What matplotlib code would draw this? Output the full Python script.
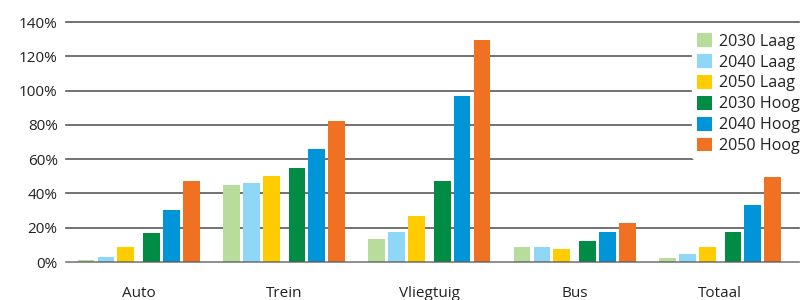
import matplotlib
matplotlib.use("Agg")
import matplotlib.pyplot as plt
from matplotlib.patches import Patch
import numpy as np

plt.rcParams['font.family'] = ['Open Sans', 'DejaVu Sans']

categories = ["Auto", "Trein", "Vliegtuig", "Bus", "Totaal"]
series_names = ["2030 Laag", "2040 Laag", "2050 Laag", "2030 Hoog", "2040 Hoog", "2050 Hoog"]
v_2030_laag = [1.0, 45.0, 13.6, 9.0, 2.5]
v_2040_laag = [3.0, 46.3, 17.7, 9.0, 4.8]
v_2050_laag = [8.5, 50.4, 27.0, 7.8, 9.0]
v_2030_hoog = [17.0, 55.0, 47.0, 12.0, 17.7]
v_2040_hoog = [30.5, 66.0, 97.0, 17.7, 33.0]
v_2050_hoog = [47.5, 82.0, 129.6, 23.0, 49.3]
y_ticks = [0, 20, 40, 60, 80, 100, 120, 140]
y_tick_labels = ["0%", "20%", "40%", "60%", "80%", "100%", "120%", "140%"]

series = [v_2030_laag, v_2040_laag, v_2050_laag, v_2030_hoog, v_2040_hoog, v_2050_hoog]
colors = ["#b8dc9c", "#8fd7f7", "#ffcc00", "#008c45", "#0094d9", "#f07122"]
offsets = [-0.362, -0.225, -0.089, 0.089, 0.225, 0.362]
bw = 0.116

fig = plt.figure(figsize=(8.05, 3.0), dpi=100)
ax = fig.add_axes([66/805, 38/300, (798.5-66)/805, 240/300])
x = np.arange(len(categories))
for vals, c, off in zip(series, colors, offsets):
    ax.bar(x + off, vals, width=bw, color=c, zorder=2)

ax.set_xlim(-0.5, 4.54)
ax.set_ylim(0, 140)
ax.set_yticks(y_ticks)
ax.set_yticklabels(y_tick_labels)
ax.set_xticks(x)
ax.set_xticklabels(categories)
for t in y_ticks:
    ax.axhline(t, color="#5a5a5a", lw=1.2, zorder=1 if t else 3, alpha=1 if t else 0.8, clip_on=False)
for s in ax.spines.values():
    s.set_visible(False)
ax.tick_params(axis='both', length=0, labelsize=11, colors="#222222")
ax.tick_params(axis='x', pad=17)
ax.tick_params(axis='y', pad=6)

handles = [Patch(facecolor=c, label=n) for c, n in zip(colors, series_names)]
leg = fig.legend(handles=handles, loc='upper right', bbox_to_anchor=(1.0, 0.905),
                 frameon=True, fontsize=11.6, handlelength=0.95, handleheight=0.95,
                 handletextpad=0.45, labelspacing=0.27, borderpad=0.3, borderaxespad=0.0)
leg.get_frame().set_facecolor('white')
leg.get_frame().set_edgecolor('white')
leg.get_frame().set_alpha(1)
leg.set_zorder(10)
for t in leg.get_texts():
    t.set_color("#222222")

fig.savefig("out.png", dpi=100)
